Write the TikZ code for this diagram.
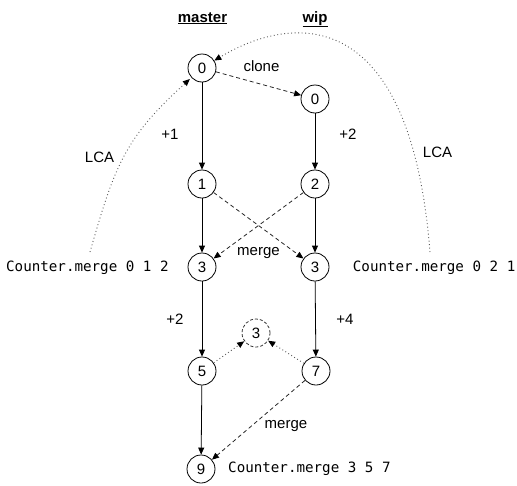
\documentclass[tikz,border=0pt]{standalone}
\usepackage{fontspec}
\setmainfont{Liberation Sans}
\newfontfamily\codefont{DejaVu Sans Mono}
\usetikzlibrary{arrows.meta}
\begin{document}
\begin{tikzpicture}[x=1pt,y=-1pt,
  state/.style={circle,draw,line width=0.8pt,minimum size=28pt,inner sep=0pt,font=\fontsize{15}{18}\selectfont},
  ghost/.style={state,dashed,dash pattern=on 3pt off 2pt,draw=black!80},
  lbl/.style={inner sep=0pt,anchor=base,font=\fontsize{15}{18}\selectfont},
  code/.style={inner sep=0pt,anchor=base west,font=\codefont\fontsize{14.2}{17}\selectfont},
  tip/.style={-{Triangle[length=7pt,width=6pt,color=black]}},
  solidedge/.style={tip,line width=0.8pt},
  dashededge/.style={tip,line width=0.8pt,dash pattern=on 4pt off 3pt,draw=black!85},
  dottededge/.style={tip,line width=0.9pt,dash pattern=on 0.9pt off 2.6pt,draw=black!65}]
\useasboundingbox (0,0) rectangle (517,485);

% column titles
\node[lbl] (tm) at (202.5,22) {\underline{\textbf{master}}};
\node[lbl] (tw) at (315,22) {\underline{\textbf{wip}}};

% states
\node[state] (m0) at (202,68) {0};
\node[state] (w0) at (315,99) {0};
\node[state] (m1) at (202,184) {1};
\node[state] (w2) at (315,184) {2};
\node[state] (m3) at (202,267) {3};
\node[state] (w3) at (315,267) {3};
\node[ghost] (d3) at (256,333) {3};
\node[state] (m5) at (202,371) {5};
\node[state] (w7) at (316,371) {7};
\node[state] (m9) at (201,469) {9};

% labels
\node[lbl] (lclone) at (261.5,71) {clone};
\node[lbl] (lp1) at (170,139) {+1};
\node[lbl] (lp2r) at (348,139.5) {+2};
\node[lbl] (llcal) at (99.5,162) {LCA};
\node[lbl] (llcar) at (437.5,157) {LCA};
\node[lbl] (lmerge1) at (258.5,255.5) {merge};
\node[lbl] (lp2l) at (175,324.5) {+2};
\node[lbl] (lp4) at (345,324.5) {+4};
\node[lbl] (lmerge2) at (286,428) {merge};

% code texts
\node[code] (cl) at (6,271.5) {Counter.merge 0 1 2};
\node[code] (cr) at (352.7,271.5) {Counter.merge 0 2 1};
\node[code] (cb) at (228,472.5) {Counter.merge 3 5 7};

% solid edges
\draw[solidedge] (m0) -- (m1);
\draw[solidedge] (m1) -- (m3);
\draw[solidedge] (m3) -- (m5);
\draw[solidedge] (m5) -- (m9);
\draw[solidedge] (w0) -- (w2);
\draw[solidedge] (w2) -- (w3);
\draw[solidedge] (w3) -- (w7);

% dashed edges
\draw[dashededge] (m0) -- (w0);
\draw[dashededge] (m1) -- (w3);
\draw[dashededge] (w2) -- (m3);
\draw[dashededge] (w7) -- (m9);

% dotted edges
\draw[dottededge] (m5) -- (d3);
\draw[dottededge] (w7) -- (d3);

% LCA curves
\coordinate (lstart) at (90,252);
\coordinate (rstart) at (430,252);
\draw[dottededge,shorten >=2pt] (lstart) .. controls (115,164.5) and (125,138) .. (m0);
\draw[dottededge] (rstart) .. controls (410,0) and (290,15) .. (m0);
\end{tikzpicture}
\end{document}
